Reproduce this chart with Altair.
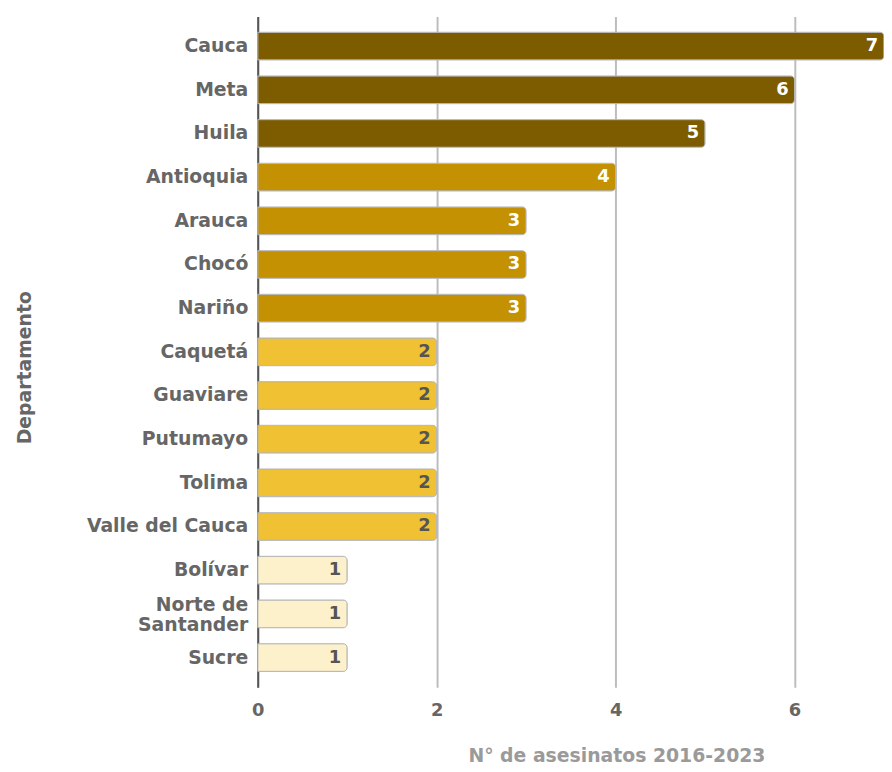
import altair as alt
import pandas as pd

departamentos = ["Cauca", "Meta", "Huila", "Antioquia", "Arauca", "Chocó", "Nariño",
                 "Caquetá", "Guaviare", "Putumayo", "Tolima", "Valle del Cauca",
                 "Bolívar", "Norte de Santander", "Sucre"]
asesinatos = [7, 6, 5, 4, 3, 3, 3, 2, 2, 2, 2, 2, 1, 1, 1]
tick_values = [0, 2, 4, 6]
color_domain = [1, 2, 3, 4, 5, 6, 7]
color_range = ["#FDF1CC", "#F0C132", "#C49102", "#C49102", "#7D5C00", "#7D5C00", "#7D5C00"]

df = pd.DataFrame({"Departamento": departamentos, "n": asesinatos})

FONT = "DejaVu Sans"

y_enc = alt.Y(
    "Departamento:N",
    sort=departamentos,
    scale=alt.Scale(paddingInner=0.365, paddingOuter=0.363),
    axis=alt.Axis(
        title="Departamento",
        titleX=-235, titleY=354, titleAngle=270, titleBaseline="middle",
        titleFontSize=19, titleColor="#666666", titleFont=FONT, titleFontWeight="bold",
        labelFont=FONT, labelFontSize=19, labelFontWeight="bold", labelColor="#666666",
        labelPadding=10, labelLineHeight=20,
        labelExpr="datum.value == 'Norte de Santander' ? ['Norte de', 'Santander'] : datum.label",
        labelOffset={"condition": {"test": "datum.value == 'Norte de Santander'", "value": -9}, "value": 0},
        ticks=False, domain=True, domainColor="#555555", domainWidth=2, grid=False,
    ),
)

x_enc = alt.X(
    "n:Q",
    scale=alt.Scale(domain=[0, 7], nice=False),
    axis=alt.Axis(
        values=tick_values, format="d", grid=True, gridColor="#bdbdbd", gridWidth=2,
        domain=False, ticks=False, labelFlush=False,
        labelFont=FONT, labelFontSize=18, labelFontWeight="bold", labelColor="#666666",
        labelPadding=14,
        title="N° de asesinatos 2016-2023", titleFont=FONT, titleFontSize=19,
        titleFontWeight="bold", titleColor="#9a9a9a",
        titleX=362, titleY=75, titleBaseline="alphabetic",
    ),
)

bars = alt.Chart(df).mark_bar(cornerRadiusEnd=4, stroke="#b5b5b5", strokeWidth=1).encode(
    y=y_enc,
    x=x_enc,
    color=alt.Color("n:O", scale=alt.Scale(domain=color_domain, range=color_range), legend=None),
)

labels = alt.Chart(df).mark_text(
    align="right", baseline="middle", dx=-6, font=FONT, fontSize=18, fontWeight="bold"
).encode(
    y=alt.Y("Departamento:N", sort=departamentos),
    x=alt.X("n:Q"),
    text=alt.Text("n:Q"),
    color=alt.condition(alt.datum.n >= 3, alt.value("white"), alt.value("#555555")),
)

chart = alt.layer(bars, labels).properties(
    width=632, height=677,
    autosize=alt.AutoSizeParams(type="none"),
    padding={"left": 252, "top": 5, "right": 0, "bottom": 80},
    background="white",
).configure_view(stroke=None)

chart.save("out.html", embed_options={"renderer": "svg", "actions": False})
